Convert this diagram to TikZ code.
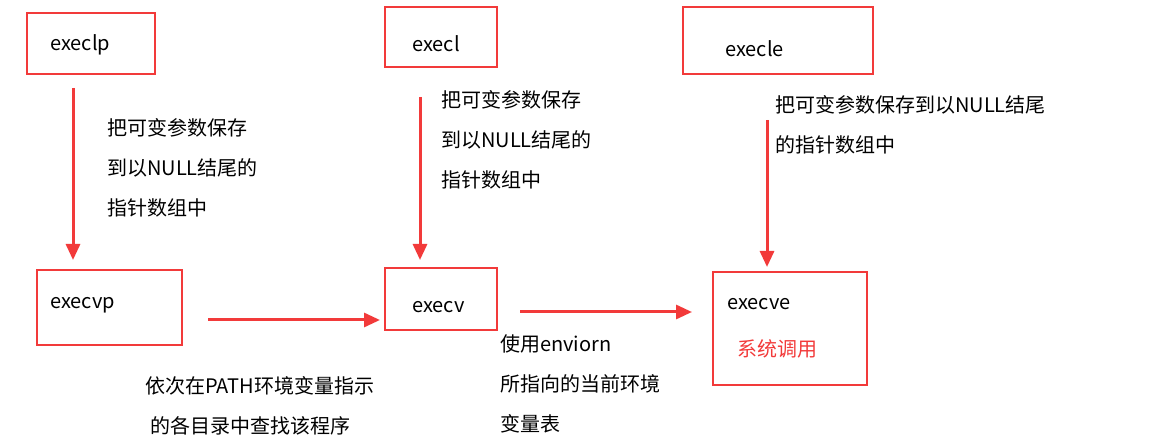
\documentclass[tikz,border=0pt]{standalone}
\usepackage{fontspec}
\setmainfont{Noto Sans CJK SC}
\usetikzlibrary{arrows.meta}
\definecolor{rd}{HTML}{F23A3A}
\begin{document}
\begin{tikzpicture}[x=1pt,y=-1pt,
  box/.style={draw=rd,line width=2.5pt,inner sep=0,minimum width=#1},
  lbl/.style={font=\fontsize{20}{40}\selectfont,inner sep=0,anchor=west,align=left},
  arr/.style={draw=rd,fill=rd,line width=3pt,-{Triangle[length=16pt,width=14pt]}}]
\path[use as bounding box] (0,0) rectangle (1161,443);
\node[box=128pt,minimum height=61pt] (b1) at (91,43.5) {};
\node[box=112pt,minimum height=60pt] (b2) at (441,37) {};
\node[box=190pt,minimum height=67pt] (b3) at (778,40.5) {};
\node[box=145pt,minimum height=75pt] (b4) at (109.5,307.5) {};
\node[box=112pt,minimum height=62pt] (b5) at (441,299) {};
\node[box=154pt,minimum height=113pt] (b6) at (790,328.5) {};
\node[lbl] (t1) at (50,45) {execlp};
\node[lbl] (t2) at (412,44) {execl};
\node[lbl] (t3) at (725,49) {execle};
\node[lbl] (t4) at (50,305) {execvp};
\node[lbl] (t5) at (412,307) {execv};
\node[lbl] (t6) at (727,304) {execve};
\node[lbl,text=rd] (t7) at (737,349) {系统调用};
\node[lbl] (l1) at (107,168) {把可变参数保存\\到以NULL结尾的\\指针数组中};
\node[lbl] (l2) at (441,140) {把可变参数保存\\到以NULL结尾的\\指针数组中};
\node[lbl] (l3) at (775,125) {把可变参数保存到以NULL结尾\\的指针数组中};
\node[lbl] (l4) at (145,406) {依次在PATH环境变量指示\\\hspace{5pt}的各目录中查找该程序};
\node[lbl] (l5) at (500,384) {使用enviorn\\所指向的当前环境\\变量表};
\coordinate (a1) at (73,88); \coordinate (a1e) at (73,260);
\coordinate (a2) at (420,97); \coordinate (a2e) at (420,260);
\coordinate (a3) at (767,120); \coordinate (a3e) at (767,267);
\coordinate (a4) at (208,320); \coordinate (a4e) at (380,320);
\coordinate (a5) at (520,312); \coordinate (a5e) at (692,312);
\foreach \s/\e in {a1/a1e,a2/a2e,a3/a3e,a4/a4e,a5/a5e} \draw[arr] (\s) -- (\e);
\end{tikzpicture}
\end{document}
